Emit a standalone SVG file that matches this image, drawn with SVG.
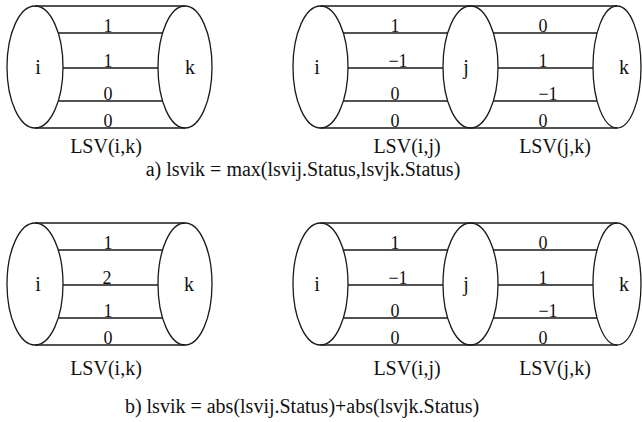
<svg xmlns="http://www.w3.org/2000/svg" width="642" height="422" viewBox="0 0 642 422">
<style>
  .bg{fill:#ffffff}
  .ell{fill:none;stroke:#1a1a1a;stroke-width:1.3}
  .ln{fill:none;stroke:#1a1a1a;stroke-width:1.3}
  text{font-family:'Liberation Serif','DejaVu Serif',serif;fill:#111;text-anchor:middle}
  .nd{font-size:20px}
  .lb{font-size:18px}
  .cap{font-size:20px}
</style>
<rect class="bg" x="0" y="0" width="642" height="422"/>

<g font-family="Liberation Serif, serif">
<!-- Top-left diagram: LSV(i,k) -->
<g id="a1-i"><ellipse class="ell" cx="35" cy="67" rx="28" ry="61"/><text class="nd" x="38" y="74">i</text></g>
<g id="a1-k"><ellipse class="ell" cx="185" cy="67" rx="27" ry="61"/><text class="nd" x="190" y="74">k</text></g>

<!-- Top-right diagram: LSV(i,j), LSV(j,k) -->
<g id="a2-i"><ellipse class="ell" cx="320.5" cy="67" rx="27.5" ry="61"/><text class="nd" x="317" y="74">i</text></g>
<g id="a2-j"><ellipse class="ell" cx="470.5" cy="67" rx="27.5" ry="61"/><text class="nd" x="466" y="74">j</text></g>
<g id="a2-k"><ellipse class="ell" cx="617" cy="67" rx="24" ry="61"/><text class="nd" x="624" y="74">k</text></g>

<!-- Bottom-left diagram -->
<g id="b1-i"><ellipse class="ell" cx="35" cy="284" rx="28" ry="61"/><text class="nd" x="38" y="291">i</text></g>
<g id="b1-k"><ellipse class="ell" cx="185" cy="284" rx="27" ry="61"/><text class="nd" x="189" y="291">k</text></g>

<!-- Bottom-right diagram -->
<g id="b2-i"><ellipse class="ell" cx="320.5" cy="284" rx="27.5" ry="61"/><text class="nd" x="317" y="291">i</text></g>
<g id="b2-j"><ellipse class="ell" cx="470.5" cy="284" rx="27.5" ry="61"/><text class="nd" x="466" y="291">j</text></g>
<g id="b2-k"><ellipse class="ell" cx="617" cy="284" rx="24" ry="61"/><text class="nd" x="624" y="291">k</text></g>

<g id="connectors">
  <!-- a1 -->
  <path class="ln" d="M35,6 H185 M35,128 H185 M58.2,33 H162.6 M63,68 H158 M58.2,101 H162.6"/>
  <text class="lb" x="108" y="32">1</text>
  <text class="lb" x="108" y="67">1</text>
  <text class="lb" x="108" y="100">0</text>
  <text class="lb" x="108" y="127">0</text>
  <!-- a2 -->
  <path class="ln" d="M320.5,6 H617 M320.5,128 H617 M343.3,33 H447.7 M348,68 H443 M343.3,101 H447.7 M493.3,33 H597.1 M498,68 H593 M493.3,101 H597.1"/>
  <text class="lb" x="395" y="32">1</text>
  <text class="lb" x="398" y="67">−1</text>
  <text class="lb" x="395" y="100">0</text>
  <text class="lb" x="395" y="127">0</text>
  <text class="lb" x="543" y="32">0</text>
  <text class="lb" x="543" y="67">1</text>
  <text class="lb" x="548" y="100">−1</text>
  <text class="lb" x="543" y="127">0</text>
  <!-- b1 -->
  <path class="ln" d="M35,223 H185 M35,345 H185 M58.2,250 H162.6 M63,285 H158 M58.2,318 H162.6"/>
  <text class="lb" x="108" y="249">1</text>
  <text class="lb" x="107" y="284">2</text>
  <text class="lb" x="108" y="317">1</text>
  <text class="lb" x="108" y="344">0</text>
  <!-- b2 -->
  <path class="ln" d="M320.5,223 H617 M320.5,345 H617 M343.3,250 H447.7 M348,285 H443 M343.3,318 H447.7 M493.3,250 H597.1 M498,285 H593 M493.3,318 H597.1"/>
  <text class="lb" x="395" y="249">1</text>
  <text class="lb" x="398" y="284">−1</text>
  <text class="lb" x="395" y="317">0</text>
  <text class="lb" x="395" y="344">0</text>
  <text class="lb" x="543" y="249">0</text>
  <text class="lb" x="543" y="284">1</text>
  <text class="lb" x="548" y="317">−1</text>
  <text class="lb" x="543" y="344">0</text>
</g>

<g id="labels">
  <text class="cap" x="106" y="153">LSV(i,k)</text>
  <text class="cap" x="407" y="153">LSV(i,j)</text>
  <text class="cap" x="555" y="153">LSV(j,k)</text>
  <text class="cap" x="303" y="176">a) lsvik = max(lsvij.Status,lsvjk.Status)</text>
  <text class="cap" x="106" y="375">LSV(i,k)</text>
  <text class="cap" x="407" y="375">LSV(i,j)</text>
  <text class="cap" x="555" y="375">LSV(j,k)</text>
  <text class="cap" x="302" y="413">b) lsvik = abs(lsvij.Status)+abs(lsvjk.Status)</text>
</g>
</g>
</svg>
